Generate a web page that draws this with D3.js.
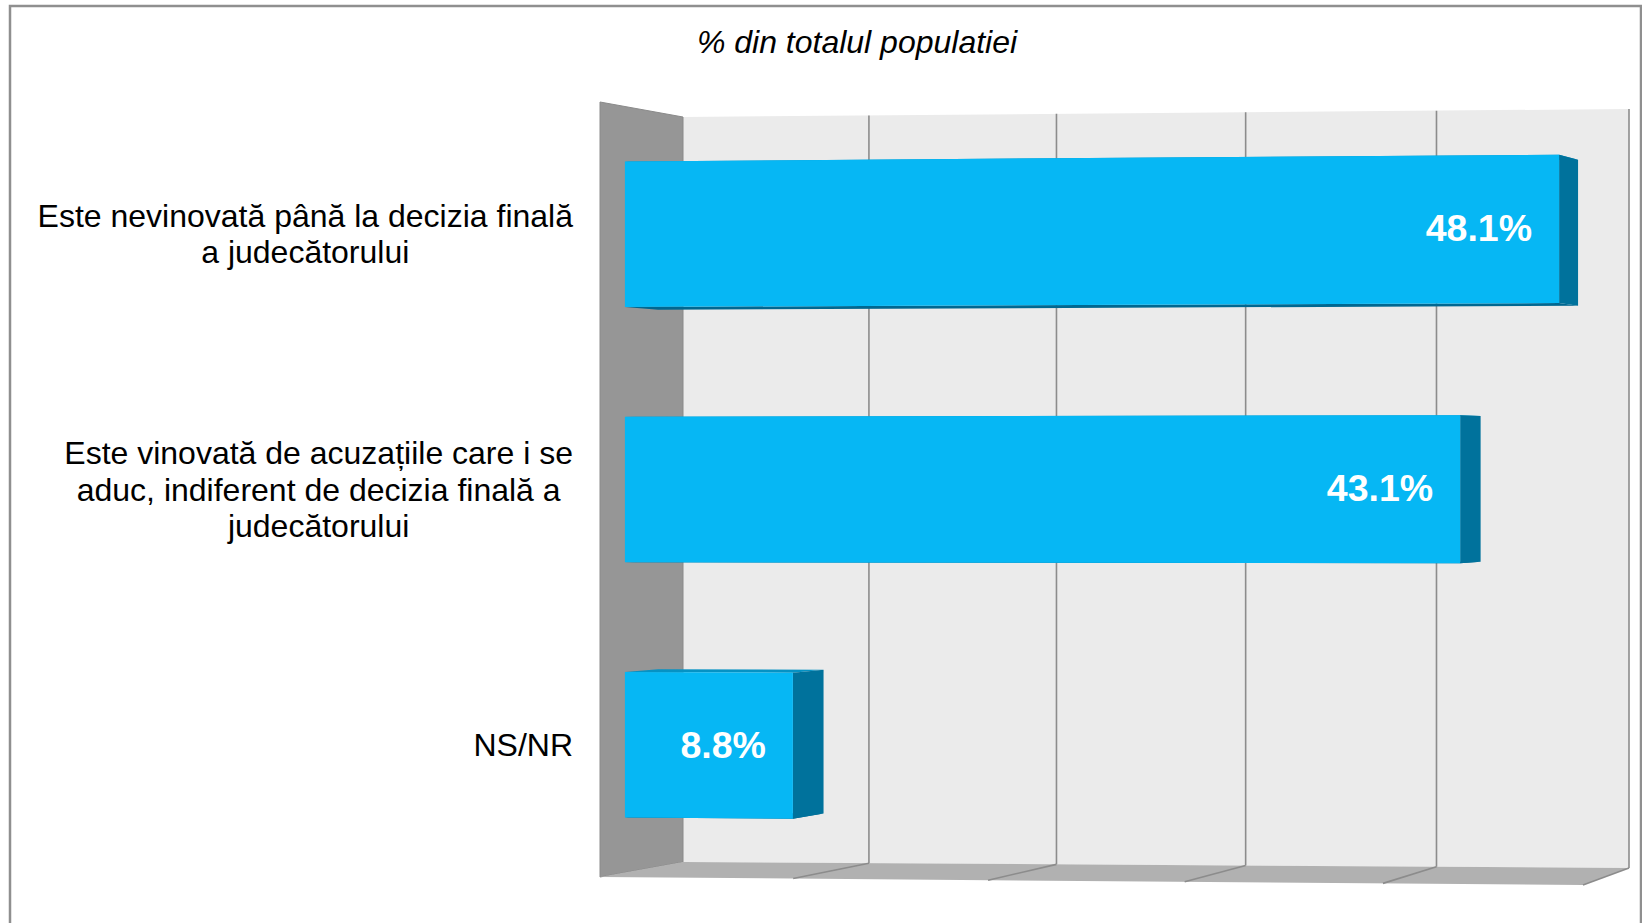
<!DOCTYPE html>
<html>
<head>
<meta charset="utf-8">
<script src="https://cdn.jsdelivr.net/npm/d3@7"></script>
<style>
  html, body { margin: 0; padding: 0; background: #fff; }
  svg { display: block; }
</style>
</head>
<body>
<svg id="chart" width="1642" height="923"></svg>
<script>
// ---- data ----
const categories = [
  "Este nevinovată până la decizia finală\na judecătorului",
  "Este vinovată de acuzațiile care i se\naduc, indiferent de decizia finală a\njudecătorului",
  "NS/NR"
];
const values = [48.1, 43.1, 8.8];
const valueLabels = ["48.1%", "43.1%", "8.8%"];
const tickValues = [0, 10, 20, 30, 40, 50];
const title = "% din totalul populatiei";

// ---- layout (3D box projection) ----
const svg = d3.select("#chart");

// front and back planes of the 3D plot box
const front = { xl: 600, xr: 1583, ybl: 877, ybr: 885, ytl: 102, ytr: 94 };
const back  = { xl: 683, xr: 1629, ybl: 862, ybr: 868, ytl: 117, ytr: 109 };
const persp = 1.022; // slight horizontal perspective

const x = d3.scaleLinear().domain([0, 50]).range([0, 1]);
const y = d3.scaleBand().domain(categories).range([0, 1]).paddingInner(0.43).paddingOuter(0.215);

const depthFront = 0.3, depthBack = 0.7;

function planePt(pl, u, w) {
  const f = u / (u + persp * (1 - u) || 1);
  const px = pl.xl + (pl.xr - pl.xl) * f;
  const yb = pl.ybl + (pl.ybr - pl.ybl) * f;
  const yt = pl.ytl + (pl.ytr - pl.ytl) * f;
  return [px, yb - w * (yb - yt)];
}
// u: horizontal fraction, w: vertical fraction (0 bottom), t: depth (0 front, 1 back)
function P(u, w, t) {
  const a = planePt(front, u, w), b = planePt(back, u, w);
  return [a[0] + (b[0] - a[0]) * t, a[1] + (b[1] - a[1]) * t];
}
const poly = pts => "M" + pts.map(p => p[0].toFixed(2) + "," + p[1].toFixed(2)).join("L") + "Z";

// outer border
svg.append("rect").attr("x", 10).attr("y", 6).attr("width", 1631).attr("height", 930)
  .attr("fill", "#fff").attr("stroke", "#8f8f8f").attr("stroke-width", 2.5);

// back wall
svg.append("path").attr("d", poly([P(0,0,1), P(0,1,1), P(1,1,1), P(1,0,1)]))
  .attr("fill", "#ebebeb");
// left wall
svg.append("path").attr("d", poly([P(0,0,0), P(0,1,0), P(0,1,1), P(0,0,1)]))
  .attr("fill", "#969696").attr("stroke", "#8a8a8a").attr("stroke-width", 1);
// floor
svg.append("path").attr("d", poly([P(0,0,0), P(0,0,1), P(1,0,1), P(1,0,0)]))
  .attr("fill", "#b1b1b1");

// gridlines on back wall
const gt = tickValues.filter(v => v > 0);
svg.append("g").selectAll("path").data(gt).join("path")
  .attr("d", v => { const a = P(x(v),0,1), b = P(x(v),1,1); return `M${a}L${b}`; })
  .attr("stroke", "#8c8c8c").attr("stroke-width", 1.6).attr("fill", "none");
// floor lines
svg.append("g").selectAll("path").data(gt).join("path")
  .attr("d", v => { const a = P(x(v),0,0), b = P(x(v),0,1); return `M${a}L${b}`; })
  .attr("stroke", "#8c8c8c").attr("stroke-width", 1.6).attr("fill", "none");

// bars
const data = categories.map((c, i) => ({ c, v: values[i], label: valueLabels[i] }));
const bars = svg.append("g").selectAll("g").data(data).join("g");
bars.each(function(d) {
  const g = d3.select(this);
  const u1 = x(d.v);
  const wTop = 1 - y(d.c), wBot = 1 - y(d.c) - y.bandwidth();
  g.append("path").attr("d", poly([P(0,wBot,depthFront), P(u1,wBot,depthFront), P(u1,wBot,depthBack), P(0,wBot,depthBack)]))
    .attr("fill", "#006790");
  g.append("path").attr("d", poly([P(0,wTop,depthFront), P(u1,wTop,depthFront), P(u1,wTop,depthBack), P(0,wTop,depthBack)]))
    .attr("fill", "#0592c4");
  g.append("path").attr("d", poly([P(u1,wBot,depthFront), P(u1,wTop,depthFront), P(u1,wTop,depthBack), P(u1,wBot,depthBack)]))
    .attr("fill", "#00729c");
  g.append("path").attr("d", poly([P(0,wBot,depthFront), P(0,wTop,depthFront), P(u1,wTop,depthFront), P(u1,wBot,depthFront)]))
    .attr("fill", "#06b7f4");
  const pe = P(u1, (wTop + wBot) / 2, depthFront);
  g.append("text").attr("x", pe[0] - 27).attr("y", pe[1] - 1)
    .attr("text-anchor", "end").attr("dominant-baseline", "central")
    .attr("font-family", "'Liberation Sans', Arial, sans-serif")
    .attr("font-weight", "bold").attr("font-size", 37.5).attr("fill", "#fff")
    .text(d.label);
});

// category labels
const labelRight = 573, lineH = 36.5;
data.forEach(d => {
  const lines = d.c.split("\n");
  const wMid = 1 - y(d.c) - y.bandwidth() / 2;
  const cy = P(0, wMid, depthFront)[1];
  const t = svg.append("text")
    .attr("font-family", "'Liberation Sans', Arial, sans-serif")
    .attr("font-size", 32).attr("fill", "#000").attr("text-anchor", "middle");
  const spans = lines.map((ln, i) => t.append("tspan")
    .attr("y", cy + (i - (lines.length - 1) / 2) * lineH)
    .attr("dominant-baseline", "central").text(ln));
  const maxW = d3.max(spans, s => s.node().getComputedTextLength());
  spans.forEach(s => s.attr("x", labelRight - maxW / 2));
});

// title
svg.append("text").attr("x", 857).attr("y", 42)
  .attr("text-anchor", "middle").attr("dominant-baseline", "central")
  .attr("font-family", "'Liberation Sans', Arial, sans-serif")
  .attr("font-style", "italic").attr("font-size", 32).attr("fill", "#000")
  .text(title);
</script>
</body>
</html>
